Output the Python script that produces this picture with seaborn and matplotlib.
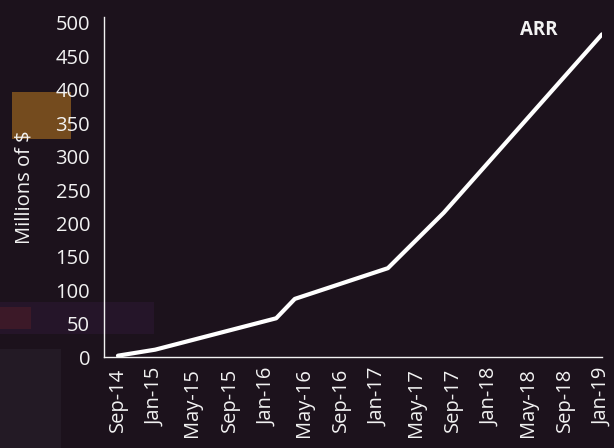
import matplotlib
matplotlib.use("Agg")
import matplotlib.pyplot as plt
import matplotlib.patches as mpatches
import seaborn as sns
import pandas as pd

# ARR curve (millions of $)
dates = ['2014-09', '2015-01', '2016-02', '2016-04', '2017-02', '2017-08', '2019-01']
arr = [2, 11, 58, 87, 133, 216, 483]

tick_dates = pd.date_range('2014-09-01', '2019-01-01', freq='4MS')
y_ticks = list(range(0, 501, 50))

bg = '#1c121c'
fg = '#f2f2f2'

start = pd.Timestamp('2014-09-01')


def month_index(d):
    d = pd.Timestamp(d)
    return (d.year - start.year) * 12 + d.month - start.month


df = pd.DataFrame({'month': [month_index(d) for d in dates], 'ARR': arr})

sns.set_style('white')
plt.rcParams['font.family'] = ['Open Sans', 'DejaVu Sans']

fig = plt.figure(figsize=(6.14, 4.48), dpi=100, facecolor=bg)

# faint blurry blobs of the background photo, left side
blobs = [
    ((0.02, 0.69), 0.095, 0.105, '#9a6420', 0.7),
    ((0.0, 0.255), 0.25, 0.07, '#2e1836', 0.5),
    ((0.0, 0.265), 0.05, 0.05, '#5a2028', 0.45),
    ((0.0, 0.0), 0.1, 0.22, '#2c2430', 0.45),
]
for (xy, w, h, c, a) in blobs:
    fig.patches.append(mpatches.Rectangle(xy, w, h, transform=fig.transFigure,
                                          color=c, alpha=a, zorder=-1, lw=0))

ax = fig.add_axes([0.1694, 0.2031, 0.811, 0.759])
ax.set_facecolor((0, 0, 0, 0))

sns.lineplot(data=df, x='month', y='ARR', color='white', linewidth=3, ax=ax,
             solid_capstyle='round')

fs = 14.5
ax.set_xlim(-1.5, 52)
ax.set_ylim(0, 509)
ax.set_xticks([month_index(d) for d in tick_dates])
ax.set_xticklabels([d.strftime('%b-%y') for d in tick_dates], rotation=90,
                   fontsize=fs, color=fg)
ax.set_yticks(y_ticks)
ax.set_yticklabels([str(v) for v in y_ticks], fontsize=fs, color=fg)
ax.tick_params(axis='y', length=0, pad=10)
ax.tick_params(axis='x', length=0, pad=8)
ax.set_xlabel('')
ax.set_ylabel('Millions of $', fontsize=fs, color=fg, labelpad=15)

for s in ['top', 'right']:
    ax.spines[s].set_visible(False)
for s in ['left', 'bottom']:
    ax.spines[s].set_color(fg)
    ax.spines[s].set_linewidth(1)

ax.text(0.873, 0.99, 'ARR', transform=ax.transAxes, ha='center', va='top',
        fontsize=13.5, fontweight='bold', color=fg)

fig.savefig('out.png', dpi=100, facecolor=bg)
